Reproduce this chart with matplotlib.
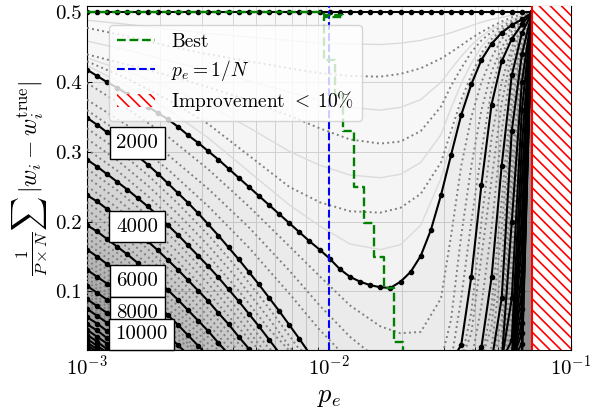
import numpy as np
import matplotlib
matplotlib.use("Agg")
import matplotlib.pyplot as plt
from matplotlib.patches import Patch

plt.rcParams.update({
    "font.family": "serif",
    "font.serif": ["cmr10"],
    "mathtext.fontset": "cm",
    "axes.formatter.use_mathtext": True,
    "hatch.linewidth": 1.2,
})

# sampled noise probabilities p_e (sweep grid)
pe = np.logspace(-3, np.log10(0.069), 45)
pe_cut = 0.069       # start of the "improvement < 10%" zone
pe_one_over_n = 0.01  # 1/N with N = 100

# ---- solid levels (every 1000 patterns) ----
err_0 = [0.5] * 45
err_1000 = [0.418, 0.409, 0.400, 0.392, 0.383, 0.374, 0.365, 0.356, 0.347, 0.336,
            0.324, 0.313, 0.301, 0.289, 0.276, 0.263, 0.250, 0.237, 0.224, 0.211,
            0.198, 0.185, 0.172, 0.160, 0.147, 0.132, 0.121, 0.114, 0.109, 0.106,
            0.105, 0.114, 0.128, 0.151, 0.188, 0.238, 0.296, 0.353, 0.397, 0.432,
            0.455, 0.471, 0.482, 0.490, 0.500]

# left branches start at pe[0]; right branches end at pe[-1]
err_2000_l = [0.349, 0.339, 0.328, 0.318, 0.306, 0.294, 0.282, 0.269, 0.255, 0.241, 0.227,
              0.212, 0.196, 0.180, 0.163, 0.146, 0.128, 0.110, 0.091, 0.072, 0.052, 0.032, 0.011]
err_2000_r = [0.0, 0.023, 0.121, 0.253, 0.368, 0.430, 0.462, 0.483, 0.5]
err_3000_l = [0.289, 0.279, 0.268, 0.257, 0.246, 0.234, 0.222, 0.209, 0.195, 0.181,
              0.166, 0.151, 0.136, 0.120, 0.103, 0.086, 0.068, 0.050, 0.031, 0.012]
err_3000_r = [0.0, 0.02, 0.12, 0.28, 0.41, 0.47, 0.5]
err_4000_l = [0.238, 0.229, 0.218, 0.207, 0.196, 0.184, 0.172, 0.159, 0.145, 0.131,
              0.116, 0.101, 0.086, 0.069, 0.053, 0.035, 0.018, 0.0]
err_4000_r = [0.0, 0.09, 0.33, 0.44, 0.5]
err_5000_l = [0.195, 0.186, 0.175, 0.164, 0.153, 0.141, 0.128, 0.115, 0.102, 0.088,
              0.073, 0.058, 0.043, 0.026, 0.010]
err_5000_r = [0.0, 0.20, 0.40, 0.5]
err_6000_l = [0.160, 0.150, 0.139, 0.128, 0.117, 0.105, 0.093, 0.080, 0.066, 0.052,
              0.037, 0.022, 0.007]
err_6000_r = [0.0, 0.09, 0.36, 0.5]
err_7000_l = [0.131, 0.121, 0.111, 0.100, 0.088, 0.076, 0.064, 0.051, 0.037, 0.023, 0.009]
err_7000_r = [0.0, 0.03, 0.31, 0.5]
err_8000_l = [0.108, 0.098, 0.088, 0.077, 0.065, 0.053, 0.041, 0.028, 0.015]
err_8000_r = [0.0, 0.26, 0.5]
err_9000_l = [0.089, 0.079, 0.069, 0.058, 0.047, 0.035, 0.022, 0.009]
err_9000_r = [0.0, 0.21, 0.5]
err_10000_l = [0.075, 0.065, 0.055, 0.044, 0.032, 0.020, 0.008]
err_10000_r = [0.0, 0.17, 0.5]
err_11000_l = [0.063, 0.054, 0.043, 0.032, 0.021, 0.009]
err_11000_r = [0.0, 0.13, 0.5]
err_12000_l = [0.053, 0.044, 0.033, 0.022, 0.011]
err_12000_r = [0.0, 0.10, 0.5]
err_13000_l = [0.045, 0.035, 0.025, 0.014]
err_13000_r = [0.0, 0.075, 0.5]
err_14000_l = [0.038, 0.028, 0.017, 0.006]
err_14000_r = [0.0, 0.055, 0.5]
err_15000_l = [0.032, 0.022, 0.012]
err_15000_r = [0.0, 0.04, 0.5]
err_16000_l = [0.027, 0.017, 0.007]
err_16000_r = [0.0, 0.025, 0.5]
err_17000_l = [0.023, 0.013]
err_17000_r = [0.0, 0.012, 0.5]
err_18000_l = [0.019, 0.009]
err_18000_r = [0.0, 0.5]

# ---- dotted levels below 2000 (full curves on a sparse set of samples) ----
k_full = [0, 4, 8, 12, 16, 20, 23, 26, 29, 31, 33, 35, 36, 37, 38, 39, 40, 41, 42, 43, 44]
err_250 = [0.478, 0.466, 0.452, 0.440, 0.430, 0.420, 0.413, 0.409, 0.408, 0.412, 0.420,
           0.434, 0.443, 0.453, 0.463, 0.472, 0.480, 0.487, 0.493, 0.497, 0.5]
err_500 = [0.440, 0.425, 0.410, 0.393, 0.374, 0.352, 0.334, 0.318, 0.312, 0.315, 0.330,
           0.365, 0.395, 0.420, 0.443, 0.460, 0.472, 0.480, 0.488, 0.494, 0.5]
err_750 = [0.430, 0.405, 0.375, 0.340, 0.295, 0.250, 0.228, 0.215, 0.213, 0.220, 0.240,
           0.285, 0.330, 0.375, 0.410, 0.442, 0.462, 0.475, 0.485, 0.492, 0.5]
err_1250 = [0.399, 0.362, 0.322, 0.275, 0.222, 0.165, 0.122, 0.080, 0.050, 0.040, 0.042,
            0.090, 0.180, 0.280, 0.350, 0.400, 0.435, 0.462, 0.478, 0.489, 0.5]
err_1500 = [0.375, 0.338, 0.296, 0.247, 0.192, 0.130, 0.080, 0.035, 0.0, 0.0, 0.0,
            0.0, 0.060, 0.180, 0.280, 0.360, 0.415, 0.450, 0.473, 0.488, 0.5]
err_1750 = [0.360, 0.320, 0.275, 0.222, 0.163, 0.097, 0.045, 0.0, 0.0, 0.0, 0.0,
            0.0, 0.0, 0.090, 0.200, 0.300, 0.390, 0.440, 0.467, 0.486, 0.5]

# ---- faint intermediate levels in the upper region ----
err_125 = [0.489, 0.483, 0.476, 0.470, 0.465, 0.460, 0.456, 0.455, 0.454, 0.456, 0.460,
           0.467, 0.471, 0.476, 0.481, 0.486, 0.490, 0.493, 0.496, 0.498, 0.5]
err_375 = [0.459, 0.446, 0.431, 0.417, 0.402, 0.386, 0.374, 0.364, 0.360, 0.364, 0.375,
           0.400, 0.419, 0.437, 0.453, 0.466, 0.476, 0.484, 0.490, 0.495, 0.5]
err_625 = [0.435, 0.415, 0.393, 0.367, 0.335, 0.301, 0.281, 0.267, 0.263, 0.268, 0.285,
           0.325, 0.363, 0.398, 0.427, 0.451, 0.467, 0.478, 0.486, 0.493, 0.5]
err_875 = [0.424, 0.394, 0.361, 0.320, 0.272, 0.224, 0.194, 0.168, 0.160, 0.167, 0.195,
           0.262, 0.313, 0.364, 0.404, 0.437, 0.459, 0.473, 0.484, 0.491, 0.5]

# ---- dotted levels above 2000: left branch every third sample, right branch per sample ----
k_step_left = 3
err_2250_l = [0.334, 0.303, 0.267, 0.226, 0.181, 0.131, 0.076, 0.017, 0.0]
err_2250_r = [0.0, 0.07, 0.20, 0.32, 0.40, 0.45, 0.479, 0.5]
err_2500_l = [0.319, 0.288, 0.252, 0.211, 0.166, 0.116, 0.061, 0.002]
err_2500_r = [0.0, 0.04, 0.15, 0.26, 0.37, 0.44, 0.476, 0.5]
err_2750_l = [0.304, 0.273, 0.237, 0.196, 0.151, 0.101, 0.046, 0.0]
err_2750_r = [0.0, 0.08, 0.19, 0.33, 0.425, 0.473, 0.5]
err_3250_l = [0.276, 0.245, 0.209, 0.169, 0.123, 0.073, 0.018, 0.0]
err_3250_r = [0.0, 0.08, 0.23, 0.39, 0.462, 0.5]
err_3500_l = [0.264, 0.232, 0.197, 0.156, 0.111, 0.061, 0.006]
err_3500_r = [0.0, 0.05, 0.19, 0.37, 0.455, 0.5]
err_3750_l = [0.251, 0.220, 0.184, 0.143, 0.098, 0.048, 0.0]
err_3750_r = [0.0, 0.02, 0.14, 0.35, 0.448, 0.5]
err_4250_l = [0.228, 0.197, 0.161, 0.120, 0.075, 0.025, 0.0]
err_4250_r = [0.0, 0.06, 0.29, 0.43, 0.5]
err_4500_l = [0.217, 0.186, 0.150, 0.109, 0.064, 0.014]
err_4500_r = [0.0, 0.04, 0.26, 0.42, 0.5]
err_4750_l = [0.206, 0.175, 0.139, 0.099, 0.053, 0.003]
err_4750_r = [0.0, 0.02, 0.23, 0.41, 0.5]
err_5250_l = [0.186, 0.155, 0.120, 0.079, 0.034, 0.0]
err_5250_r = [0.0, 0.17, 0.39, 0.5]
err_5500_l = [0.177, 0.146, 0.111, 0.070, 0.025, 0.0]
err_5500_r = [0.0, 0.14, 0.38, 0.5]
err_5750_l = [0.169, 0.137, 0.102, 0.061, 0.016, 0.0]
err_5750_r = [0.0, 0.11, 0.37, 0.5]
err_6250_l = [0.152, 0.121, 0.085, 0.045, 0.0]
err_6250_r = [0.0, 0.07, 0.35, 0.5]
err_6500_l = [0.145, 0.114, 0.078, 0.038, 0.0]
err_6500_r = [0.0, 0.05, 0.335, 0.5]
err_6750_l = [0.138, 0.107, 0.071, 0.031, 0.0]
err_6750_r = [0.0, 0.04, 0.32, 0.5]
err_7250_l = [0.125, 0.094, 0.058, 0.018, 0.0]
err_7250_r = [0.0, 0.02, 0.295, 0.5]
err_7500_l = [0.119, 0.088, 0.053, 0.012]
err_7500_r = [0.0, 0.01, 0.28, 0.5]
err_7750_l = [0.114, 0.083, 0.047, 0.006]
err_7750_r = [0.0, 0.27, 0.5]
err_8250_l = [0.103, 0.072, 0.036, 0.0]
err_8250_r = [0.0, 0.245, 0.5]
err_8500_l = [0.099, 0.068, 0.032, 0.0]
err_8500_r = [0.0, 0.23, 0.5]
err_8750_l = [0.094, 0.063, 0.027, 0.0]
err_8750_r = [0.0, 0.22, 0.5]
err_9250_l = [0.086, 0.055, 0.019, 0.0]
err_9250_r = [0.0, 0.20, 0.5]
err_9500_l = [0.082, 0.051, 0.015]
err_9500_r = [0.0, 0.19, 0.5]
err_9750_l = [0.079, 0.047, 0.012]
err_9750_r = [0.0, 0.18, 0.5]

# ---- optimal p_e for each training-set size ----
best_pe = [0.001, 0.00958, 0.00958, 0.01148, 0.01148, 0.00958, 0.00958, 0.01054, 0.01054,
           0.01148, 0.01148, 0.01263, 0.01263, 0.0139, 0.0139, 0.01529, 0.01529,
           0.01681, 0.01681, 0.01849, 0.01849, 0.02015, 0.02015]
best_err = [0.5, 0.5, 0.497, 0.497, 0.494, 0.494, 0.432, 0.432, 0.382, 0.382, 0.330,
            0.330, 0.250, 0.250, 0.198, 0.198, 0.150, 0.150, 0.105, 0.105, 0.028, 0.028, 0.0]

# contour-style labels
label_text = ["2000", "4000", "6000", "8000", "10000"]
label_pe = [1.611e-3, 1.611e-3, 1.611e-3, 1.611e-3, 1.681e-3]
label_err = [0.313, 0.193, 0.115, 0.069, 0.0387]

solid_branches = [
    (err_2000_l, err_2000_r), (err_3000_l, err_3000_r), (err_4000_l, err_4000_r),
    (err_5000_l, err_5000_r), (err_6000_l, err_6000_r), (err_7000_l, err_7000_r),
    (err_8000_l, err_8000_r), (err_9000_l, err_9000_r), (err_10000_l, err_10000_r),
    (err_11000_l, err_11000_r), (err_12000_l, err_12000_r), (err_13000_l, err_13000_r),
    (err_14000_l, err_14000_r), (err_15000_l, err_15000_r), (err_16000_l, err_16000_r),
    (err_17000_l, err_17000_r), (err_18000_l, err_18000_r),
]
dotted_full = [err_250, err_500, err_750, err_1250, err_1500, err_1750]
faint_full = [err_125, err_375, err_625, err_875]
dotted_branches = [
    (err_2250_l, err_2250_r), (err_2500_l, err_2500_r), (err_2750_l, err_2750_r),
    (err_3250_l, err_3250_r), (err_3500_l, err_3500_r), (err_3750_l, err_3750_r),
    (err_4250_l, err_4250_r), (err_4500_l, err_4500_r), (err_4750_l, err_4750_r),
    (err_5250_l, err_5250_r), (err_5500_l, err_5500_r), (err_5750_l, err_5750_r),
    (err_6250_l, err_6250_r), (err_6500_l, err_6500_r), (err_6750_l, err_6750_r),
    (err_7250_l, err_7250_r), (err_7500_l, err_7500_r), (err_7750_l, err_7750_r),
    (err_8250_l, err_8250_r), (err_8500_l, err_8500_r), (err_8750_l, err_8750_r),
    (err_9250_l, err_9250_r), (err_9500_l, err_9500_r), (err_9750_l, err_9750_r),
]

fig = plt.figure(figsize=(6.02, 4.11), dpi=100)
ax = fig.add_axes([0.1445, 0.1484, 0.804, 0.8358])
ax.set_xscale("log")

solid_kw = dict(color="black", lw=1.5, marker="o", ms=3.0, zorder=4)
dot_kw = dict(color="0.5", lw=1.4, ls=":", zorder=3)
faint_kw = dict(color="0.86", lw=1.0, zorder=2)
shade_solid = dict(color="0.35", alpha=0.032, lw=0, zorder=1)
shade_dot = dict(color="0.35", alpha=0.013, lw=0, zorder=1)

# full curves
for y in (err_0, err_1000):
    ax.fill_between(pe, 0, y, **shade_solid)
    ax.plot(pe, y, **solid_kw)

for y in faint_full:
    ax.plot(pe[k_full], y, **faint_kw)

for y in dotted_full:
    x = pe[k_full]
    ax.fill_between(x, 0, y, **shade_dot)
    ax.plot(x, y, **dot_kw)

for left, right in solid_branches:
    xl = pe[:len(left)]
    xr = pe[len(pe) - len(right):]
    ax.fill_between(xl, 0, left, **shade_solid)
    ax.fill_between(xr, 0, right, **shade_solid)
    ax.plot(xl, left, **solid_kw)
    ax.plot(xr, right, **solid_kw)

for left, right in dotted_branches:
    xl = pe[::k_step_left][:len(left)]
    xr = pe[len(pe) - len(right):]
    ax.fill_between(xl, 0, left, **shade_dot)
    ax.fill_between(xr, 0, right, **shade_dot)
    ax.plot(xl, left, **dot_kw)
    ax.plot(xr, right, **dot_kw)

best_line, = ax.plot(best_pe, best_err, color="green", ls="--", lw=1.7, zorder=6, label="Best")
one_n = ax.axvline(pe_one_over_n, color="blue", ls="--", lw=1.5, zorder=5, label=r"$p_e = 1/N$")
ax.axvspan(pe_cut, 0.1, facecolor="white", edgecolor="red", hatch="\\\\\\", lw=0, zorder=7)
ax.axvline(pe_cut, color="red", lw=1.5, zorder=7.5)

for txt, xv, yv in zip(label_text, label_pe, label_err):
    ax.text(xv, yv, txt, fontsize=15, ha="center", va="center", zorder=9,
            bbox=dict(boxstyle="square,pad=0.32", fc="white", ec="black", lw=1.0))

ax.set_xlim(1e-3, 1e-1)
ax.set_ylim(0.016, 0.5086)
ax.set_yticks([0.1, 0.2, 0.3, 0.4, 0.5])
ax.set_yticklabels(["0.1", "0.2", "0.3", "0.4", "0.5"])
ax.tick_params(which="both", direction="in", labelsize=15)
ax.grid(which="both", color="0.85", lw=0.7)
ax.set_axisbelow(True)

ax.set_xlabel(r"$p_e$", fontsize=19)
ax.set_ylabel(r"$\frac{1}{P\times N}\sum\,|w_i - w_i^{\rm true}|$", fontsize=17)

hatch_handle = Patch(facecolor="white", edgecolor="red", hatch="\\\\\\", lw=0,
                     label=r"Improvement $<\;10\%$")
ax.legend(handles=[best_line, one_n, hatch_handle], loc="upper left",
          bbox_to_anchor=(0.045, 0.946), borderaxespad=0, fontsize=14,
          labelspacing=0.35, framealpha=0.8).set_zorder(20)

fig.savefig("out.png", dpi=100)
